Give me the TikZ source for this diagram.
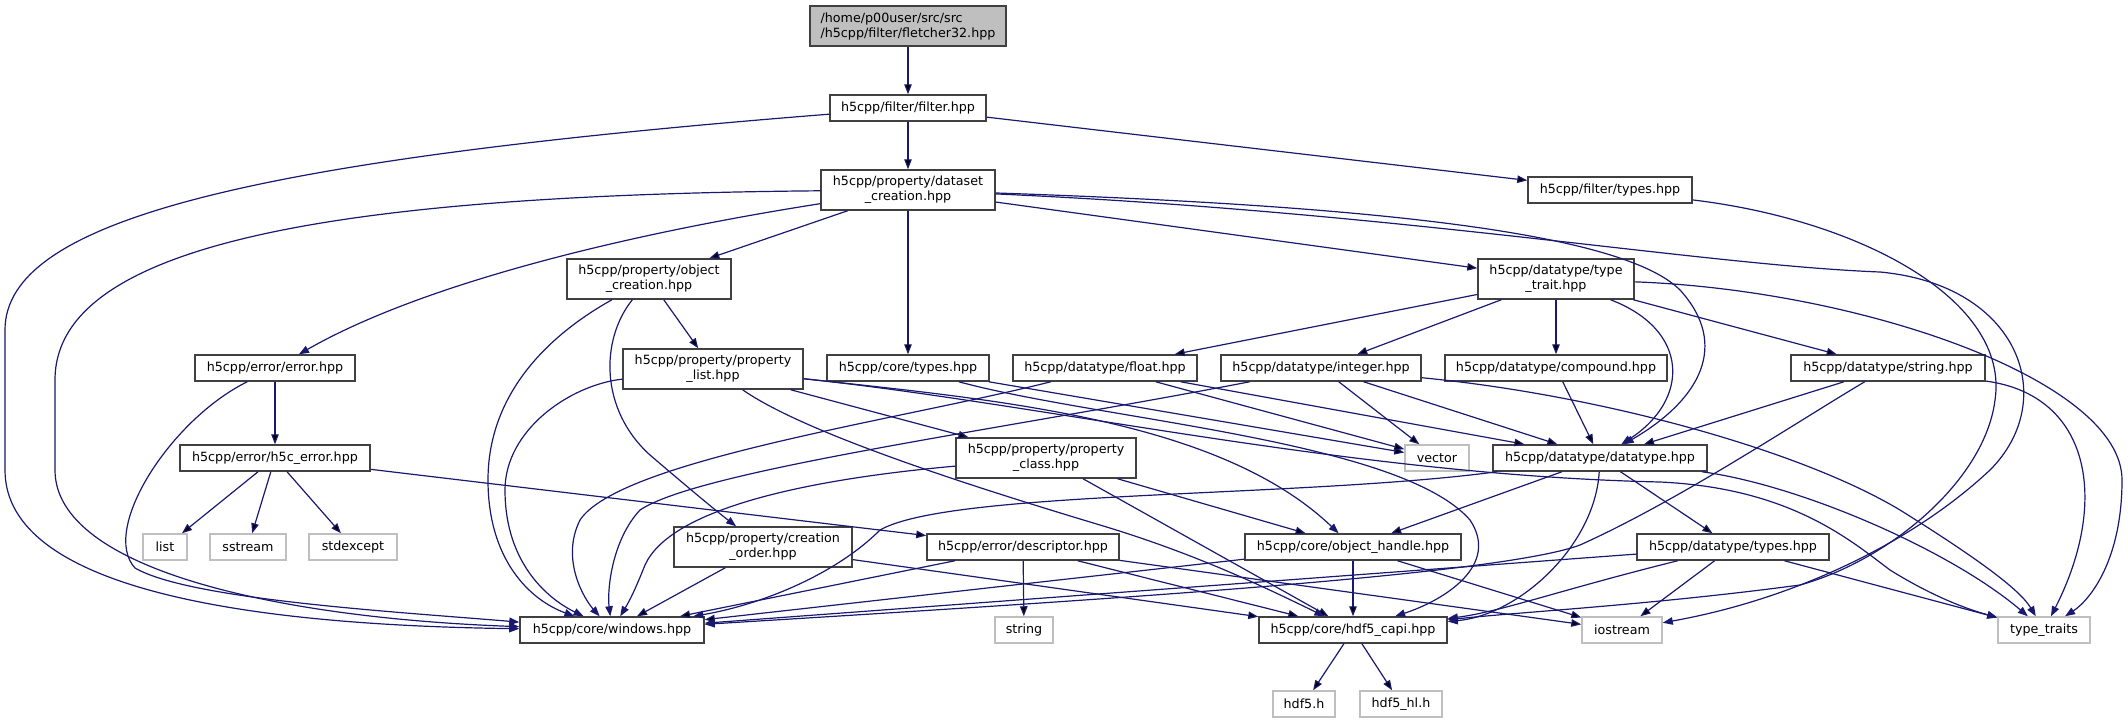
\documentclass[tikz,border=0pt]{standalone}
\usepackage{fontspec}
\newfontfamily\dvs{DejaVu Sans}
\usetikzlibrary{arrows.meta}
\definecolor{edgeblue}{HTML}{191970}
\definecolor{boxgray}{HTML}{404040}
\definecolor{sysgray}{HTML}{BFBFBF}

\begin{document}
\begin{tikzpicture}[x=1pt, y=-1pt,
    file/.style={draw=boxgray, fill=white, line width=1.5pt, inner sep=0pt,
      minimum height=26pt, align=center, font=\dvs\fontsize{12.7}{15}\selectfont},
    twoline/.style={file, minimum height=40pt},
    sys/.style={file, draw=sysgray},
    rootfile/.style={twoline, fill=sysgray, align=left},
    dep/.style={draw=edgeblue, line width=1.2pt, -{Triangle[length=10pt,width=7.5pt]}}]

    \useasboundingbox (0,0) rectangle (2128,723);

    % headers of the project
    \node [rootfile, minimum width=196pt] (fletcher) at (908,26) {/home/p00user/src/src\\/h5cpp/filter/fletcher32.hpp};
    \node [file, minimum width=156pt] (filter) at (908,108) {h5cpp/filter/filter.hpp};
    \node [twoline, minimum width=174pt] (dscreate) at (908,190) {h5cpp/property/dataset\\\_creation.hpp};
    \node [file, minimum width=164pt] (ftypes) at (1610,190) {h5cpp/filter/types.hpp};
    \node [twoline, minimum width=164pt] (objcreate) at (649,279) {h5cpp/property/object\\\_creation.hpp};
    \node [twoline, minimum width=156pt] (typetrait) at (1556,279) {h5cpp/datatype/type\\\_trait.hpp};
    \node [file, minimum width=160pt] (error) at (275,368) {h5cpp/error/error.hpp};
    \node [twoline, minimum width=180pt] (plist) at (713,369) {h5cpp/property/property\\\_list.hpp};
    \node [file, minimum width=162pt] (ctypes) at (908,368) {h5cpp/core/types.hpp};
    \node [file, minimum width=184pt] (float) at (1105,368) {h5cpp/datatype/float.hpp};
    \node [file, minimum width=200pt] (integer) at (1321,368) {h5cpp/datatype/integer.hpp};
    \node [file, minimum width=222pt] (compound) at (1556,368) {h5cpp/datatype/compound.hpp};
    \node [file, minimum width=194pt] (string) at (1888,368) {h5cpp/datatype/string.hpp};
    \node [file, minimum width=190pt] (h5cerr) at (275,458) {h5cpp/error/h5c\_error.hpp};
    \node [twoline, minimum width=180pt] (pclass) at (1046,458) {h5cpp/property/property\\\_class.hpp};
    \node [file, minimum width=214pt] (datatype) at (1600,458) {h5cpp/datatype/datatype.hpp};
    \node [twoline, minimum width=178pt] (corder) at (763,547) {h5cpp/property/creation\\\_order.hpp};
    \node [file, minimum width=192pt] (descriptor) at (1023,547) {h5cpp/error/descriptor.hpp};
    \node [file, minimum width=216pt] (objhandle) at (1353,547) {h5cpp/core/object\_handle.hpp};
    \node [file, minimum width=192pt] (dtypes) at (1733,547) {h5cpp/datatype/types.hpp};
    \node [file, minimum width=184pt] (windows) at (612,630) {h5cpp/core/windows.hpp};
    \node [file, minimum width=188pt] (capi) at (1353,630) {h5cpp/core/hdf5\_capi.hpp};

    % system headers
    \node [sys, minimum width=64pt] (vector) at (1437,458) {vector};
    \node [sys, minimum width=44pt] (list) at (165,547) {list};
    \node [sys, minimum width=76pt] (sstream) at (248,547) {sstream};
    \node [sys, minimum width=88pt] (stdexcept) at (353,547) {stdexcept};
    \node [sys, minimum width=58pt] (stringh) at (1024,630) {string};
    \node [sys, minimum width=80pt] (iostream) at (1622,630) {iostream};
    \node [sys, minimum width=92pt] (typetraits) at (2044,630) {type\_traits};
    \node [sys, minimum width=62pt] (hdf5) at (1304,704) {hdf5.h};
    \node [sys, minimum width=82pt] (hdf5hl) at (1401,704) {hdf5\_hl.h};

    % straight includes
    \path[dep]
      (fletcher) edge (filter)
      (filter) edge (dscreate)
      (filter) edge (ftypes)
      (dscreate) edge (objcreate)
      (dscreate) edge (ctypes)
      (dscreate) edge (typetrait)
      (objcreate) edge (plist)
      (plist) edge (pclass)
      (ctypes) edge (vector)
      (typetrait) edge (float)
      (typetrait) edge (integer)
      (typetrait) edge (compound)
      (typetrait) edge (string)
      (float) edge (vector)
      (float) edge (datatype)
      (integer) edge (vector)
      (integer) edge (datatype)
      (compound) edge (datatype)
      (string) edge (datatype)
      (error) edge (h5cerr)
      (h5cerr) edge (list)
      (h5cerr) edge (sstream)
      (h5cerr) edge (stdexcept)
      (h5cerr) edge (descriptor)
      (pclass) edge (objhandle)
      (pclass) edge (capi)
      (datatype) edge (objhandle)
      (datatype) edge (dtypes)
      (corder) edge (windows)
      (corder) edge (capi)
      (descriptor) edge (windows)
      (descriptor) edge (stringh)
      (descriptor) edge (capi)
      (descriptor) edge (iostream)
      (objhandle) edge (windows)
      (objhandle) edge (capi)
      (objhandle) edge (iostream)
      (dtypes) edge (windows)
      (dtypes) edge (iostream)
      (dtypes) edge (typetraits)
      (capi) edge (hdf5)
      (capi) edge (hdf5hl);

    % curved includes
    \draw[dep] (filter) .. controls (250,160) and (5,220) .. (5,330) -- (5,470) .. controls (5,590) and (250,625) .. (windows);
    \draw[dep] (dscreate) .. controls (350,195) and (55,240) .. (55,380) -- (55,470) .. controls (55,570) and (280,618) .. (windows);
    \draw[dep] (error) .. controls (170,420) and (100,530) .. (135,568) .. controls (190,600) and (400,612) .. (windows);
    \draw[dep] (dscreate) .. controls (620,235) and (420,285) .. (error);
    \draw[dep] (dscreate) .. controls (1350,205) and (1620,230) .. (1680,290) .. controls (1730,345) and (1700,400) .. (datatype);
    \draw[dep] (dscreate) .. controls (1400,212) and (1700,265) .. (1880,272) .. controls (2020,285) and (2060,400) .. (1990,470) .. controls (1910,545) and (1790,600) .. (iostream);
    \draw[dep] (ftypes) .. controls (1860,220) and (2010,300) .. (1995,400) .. controls (1985,480) and (1890,560) .. (1800,585) .. controls (1650,605) and (1520,612) .. (capi);
    \draw[dep] (objcreate) .. controls (540,340) and (488,400) .. (488,480) .. controls (488,560) and (530,600) .. (windows);
    \draw[dep] (objcreate) .. controls (600,340) and (600,410) .. (650,455) .. controls (685,485) and (715,510) .. (corder);
    \draw[dep] (plist) .. controls (570,385) and (505,430) .. (505,490) .. controls (505,565) and (550,600) .. (windows);
    \draw[dep] (plist) .. controls (800,430) and (950,480) .. (1100,525) .. controls (1200,555) and (1270,590) .. (capi);
    \draw[dep] (plist) .. controls (1000,400) and (1220,420) .. (objhandle);
    \draw[dep] (plist) .. controls (1050,405) and (1350,475) .. (1660,482) .. controls (1790,488) and (1850,540) .. (1890,570) .. controls (1935,598) and (1970,610) .. (typetraits);
    \draw[dep] (ctypes) .. controls (1100,420) and (1400,440) .. (1470,520) .. controls (1500,565) and (1445,600) .. (capi);
    \draw[dep] (float) .. controls (900,420) and (620,460) .. (580,520) .. controls (560,560) and (585,600) .. (windows);
    \draw[dep] (integer) .. controls (1000,430) and (700,470) .. (640,510) .. controls (612,540) and (607,590) .. (windows);
    \draw[dep] (integer) .. controls (1600,395) and (1800,450) .. (1900,510) .. controls (1980,560) and (2020,590) .. (typetraits);
    \draw[dep] (string) .. controls (1800,420) and (1680,500) .. (1580,545) .. controls (1500,575) and (1100,600) .. (windows);
    \draw[dep] (string) .. controls (2090,395) and (2110,500) .. (typetraits);
    \draw[dep] (typetrait) .. controls (1690,330) and (1690,400) .. (datatype);
    \draw[dep] (typetrait) .. controls (1860,290) and (2122,380) .. (2122,480) .. controls (2122,560) and (2090,600) .. (typetraits);
    \draw[dep] (pclass) .. controls (800,480) and (670,510) .. (645,565) .. controls (635,590) and (630,600) .. (windows);
    \draw[dep] (datatype) .. controls (1300,498) and (950,490) .. (880,530) .. controls (835,575) and (760,605) .. (windows);
    \draw[dep] (datatype) .. controls (1595,545) and (1520,615) .. (capi);
    \draw[dep] (datatype) .. controls (1800,485) and (1950,550) .. (typetraits);
    \draw[dep] (dtypes) .. controls (1560,590) and (1500,612) .. (capi);

\end{tikzpicture}
\end{document}
